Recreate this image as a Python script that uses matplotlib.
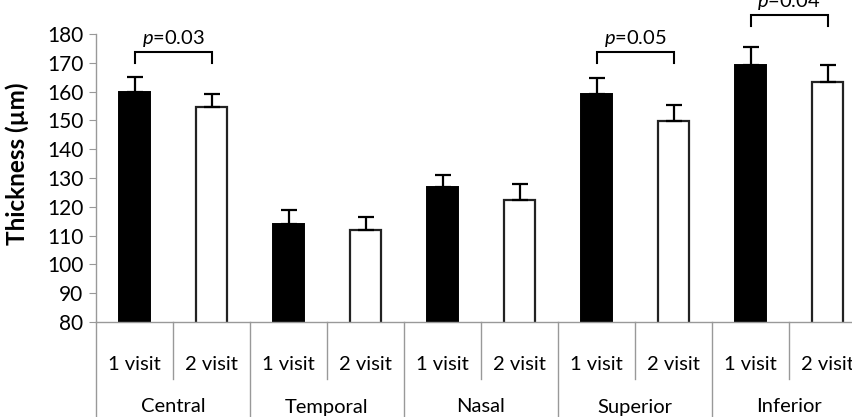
import matplotlib
matplotlib.use("Agg")
import matplotlib.pyplot as plt
import matplotlib.transforms as mtransforms
import numpy as np

plt.rcParams["font.family"] = ["Lato", "DejaVu Sans"]
plt.rcParams["mathtext.fontset"] = "custom"
plt.rcParams["mathtext.rm"] = "Lato"
plt.rcParams["mathtext.it"] = "Lato:italic"

regions = ["Central", "Temporal", "Nasal", "Superior", "Inferior"]
visits = ["1 visit", "2 visit"]
visit1_mean = [160.0, 114.0, 126.8, 159.0, 169.3]
visit1_err = [5.0, 5.0, 4.3, 5.6, 6.2]
visit2_mean = [154.5, 112.0, 122.5, 149.8, 163.3]
visit2_err = [4.8, 4.6, 5.4, 5.4, 5.8]

# significance brackets: region index, p-value label, bracket height
sig_regions = [0, 3, 4]
sig_labels = ["0.03", "0.05", "0.04"]
sig_heights = [173.8, 173.8, 186.6]

W, H = 853, 417
fig = plt.figure(figsize=(W / 100, H / 100), dpi=100)
ax = fig.add_axes([96 / W, 95 / H, 770 / W, 288 / H])

n = len(regions)
x1 = np.arange(n) * 2
x2 = x1 + 1
bw = 0.4
ekw = dict(ecolor="black", elinewidth=1.6, capthick=1.6)
ax.bar(x1, visit1_mean, bw, color="black", edgecolor="black", linewidth=1.4, zorder=2)
ax.errorbar(x1, visit1_mean, yerr=[np.zeros(n), visit1_err], fmt="none", capsize=6, zorder=3, **ekw)
ax.bar(x2, visit2_mean, bw, color="white", edgecolor="#222222", linewidth=1.6, zorder=2)
ax.errorbar(x2, visit2_mean, yerr=[np.zeros(n), visit2_err], fmt="none", capsize=6, zorder=3, **ekw)

for i, lab, h in zip(sig_regions, sig_labels, sig_heights):
    xa, xb = x1[i], x2[i]
    ax.plot([xa, xa, xb, xb], [h - 3.8, h, h, h - 3.8], color="black", lw=1.5,
            clip_on=False, solid_joinstyle="miter")
    ax.text((xa + xb) / 2, h + 1.0, r"$\mathit{p}$=" + lab, ha="center", va="bottom",
            fontsize=14.5, clip_on=False)

ax.set_xlim(-0.5, 2 * n - 0.5)
ax.set_ylim(80, 180)
ax.set_yticks(np.arange(80, 181, 10))
ax.tick_params(axis="y", direction="out", length=5, color="#999999", labelsize=15, pad=4)
ax.set_xticks([])
for s in ["top", "right"]:
    ax.spines[s].set_visible(False)
for s in ["left", "bottom"]:
    ax.spines[s].set_color("#999999")
    ax.spines[s].set_linewidth(1.0)

ax.set_ylabel("Thickness (µm)", fontsize=17.5, fontweight="bold")
ax.yaxis.set_label_coords(-0.087, 0.55)

# two-level category axis
trans = mtransforms.blended_transform_factory(ax.transData, ax.transAxes)
short_y = -57 / 288
long_y = -100 / 288
for i in range(n):
    for xv, v in zip([x1[i], x2[i]], visits):
        ax.text(xv, -43 / 288, v, transform=trans, ha="center", va="center", fontsize=14.5)
    ax.text(x1[i] + 0.5, -85 / 288, regions[i], transform=trans, ha="center", va="center",
            fontsize=14.5)
    ax.plot([x1[i] + 0.5] * 2, [0, short_y], transform=trans, color="#999999", lw=1.0,
            clip_on=False)
    ax.plot([x1[i] - 0.5] * 2, [0, long_y], transform=trans, color="#999999", lw=1.0,
            clip_on=False)

fig.savefig("out.png", dpi=100)
